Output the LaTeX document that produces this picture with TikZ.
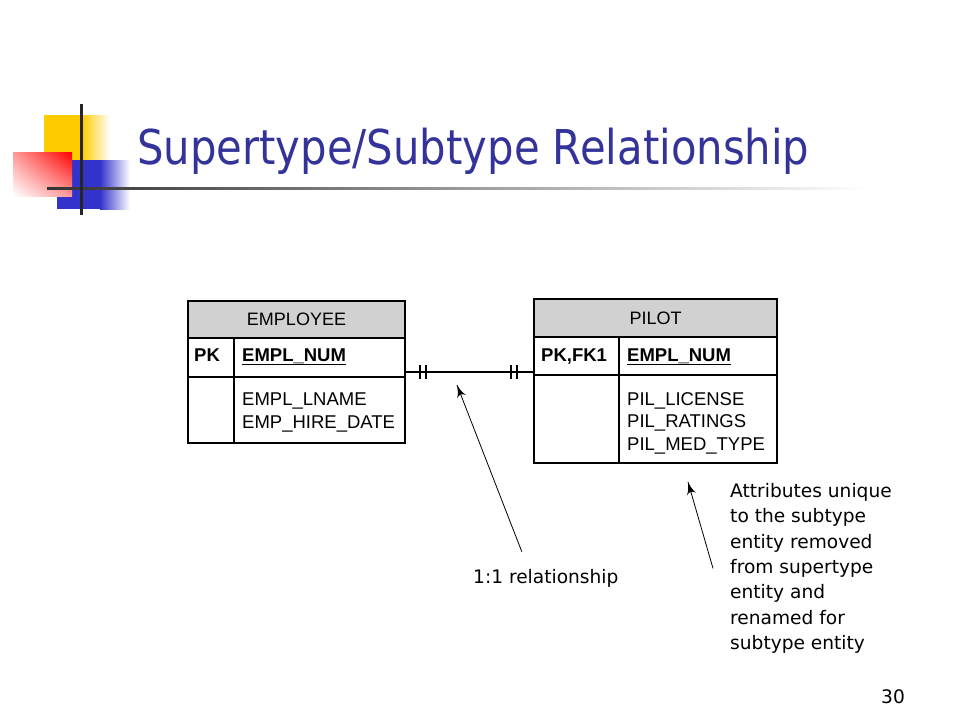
\documentclass[tikz,border=0pt]{standalone}
\usepackage{fontspec}
\setmainfont{Liberation Sans}
\newfontfamily\slidefont[FakeStretch=0.87]{DejaVu Sans}
\newfontfamily\notefont{DejaVu Sans}
\usetikzlibrary{arrows}
\usetikzlibrary{decorations.markings}
\usetikzlibrary{shadings}
\tikzset{pointer/.style = {decoration={markings,
                                       mark=at position 1 with {\arrow[scale=2.4]{latex'}}},
                           postaction={decorate}}}
\tikzset{entity/.style = {draw, line width=1.2pt, inner sep=0}}
\tikzset{entityhead/.style = {entity, fill=headgray}}
\tikzset{divider/.style = {line width=1.2pt}}
\tikzset{field/.style = {anchor=base west, inner sep=0, font=\fontsize{18.5}{22}\selectfont}}
\tikzset{caption/.style = {anchor=base, inner sep=0, font=\fontsize{18}{22}\selectfont}}
\tikzset{remark/.style = {inner sep=0, font=\notefont\fontsize{18.6}{25.4}\selectfont}}
\tikzset{note/.style = {remark, align=left}}
\tikzset{bar/.style = {line width=2pt}}
\definecolor{titleblue}{rgb}{0.2, 0.2, 0.6}
\definecolor{headgray}{rgb}{0.82, 0.82, 0.82}
\definecolor{lyellow}{rgb}{1, 0.8, 0}
\definecolor{lblue}{rgb}{0.2, 0.2, 0.8}
\begin{document}
\begin{tikzpicture}[x=1pt, y=-1pt]
    \fill [white] (0, 0) rectangle (960, 720);

    % corner logo
    \fill [lyellow] (44, 115) rectangle (82, 160);
    \shade [left color=lyellow, right color=white] (82, 115) rectangle (110, 160);
    \fill [lblue] (57, 160) rectangle (100, 209);
    \shade [left color=lblue, right color=white] (100, 160) rectangle (130, 209);
    \shade [upper right=red, upper left=red!40!white, lower right=red!40!white, lower left=white] (13, 152) rectangle (72, 196);
    \shade [left color=black!80, right color=white] (47, 187) rectangle (870, 189.5);
    \draw [line width=3pt, black!85] (81, 104) -- (81, 215);

    \node [anchor=base west, inner sep=0, text=titleblue, font=\slidefont\fontsize{48}{52}\selectfont] (title) at (137, 164) {Supertype/Subtype Relationship};

    % supertype
    \node [entity, minimum width=217pt, minimum height=142pt] (emp) at (296.5, 372) {};
    \node [entityhead, minimum width=217pt, minimum height=37pt, anchor=north] (emphead) at (emp.north) {};
    \node [caption] (empname) at (296.5, 325) {EMPLOYEE};
    \draw [divider] (188, 377) -- (405, 377);
    \draw [divider] (234, 338) -- (234, 443);
    \node [field] (empkey) at (194, 361) {\textbf{PK}};
    \node [field] (empnum) at (242, 361) {\underline{\textbf{EMPL\_NUM}}};
    \node [field] (emplname) at (242, 405.5) {EMPL\_LNAME};
    \node [field] (emphire) at (242, 428.5) {EMP\_HIRE\_DATE};

    % subtype
    \node [entity, minimum width=243pt, minimum height=164pt] (pil) at (655.5, 381) {};
    \node [entityhead, minimum width=243pt, minimum height=38pt, anchor=north] (pilhead) at (pil.north) {};
    \node [caption] (pilname) at (655.5, 324.5) {PILOT};
    \draw [divider] (534, 375) -- (777, 375);
    \draw [divider] (619, 337) -- (619, 463);
    \node [field] (pilkey) at (541, 361) {\textbf{PK,FK1}};
    \node [field] (pilnum) at (627, 361) {\underline{\textbf{EMPL\_NUM}}};
    \node [field] (pillic) at (627, 405) {PIL\_LICENSE};
    \node [field] (pilrat) at (627, 427.5) {PIL\_RATINGS};
    \node [field] (pilmed) at (627, 450) {PIL\_MED\_TYPE};

    % one-to-one link
    \coordinate (pilend) at (emp.east -| pil.west);
    \draw [bar] (emp.east) -- (pilend);
    \foreach \d in {14, 20} {
      \draw [bar] ([xshift=\d]emp.east) ++(0, -7) -- ++(0, 14);
    }
    \foreach \d in {16, 22} {
      \draw [bar] ([xshift=-\d]pilend) ++(0, -7) -- ++(0, 14);
    }

    \node [remark, anchor=base west] (rel) at (473, 583) {1:1 relationship};
    \coordinate (reltip) at (457, 385);
    \draw [pointer, line width=0.8pt] ([xshift=-24, yshift=17]rel.north) -- (reltip);

    \node [note, anchor=north west] (attr) at (730, 483) {Attributes unique\\to the subtype\\entity removed\\from supertype\\entity and\\renamed for\\subtype entity};
    \coordinate (attrtip) at (688, 482);
    \draw [pointer, line width=0.8pt] ([xshift=-17]attr.west) -- (attrtip);

    \node [remark] (page) at (893, 697) {30};
  \end{tikzpicture}
\end{document}
